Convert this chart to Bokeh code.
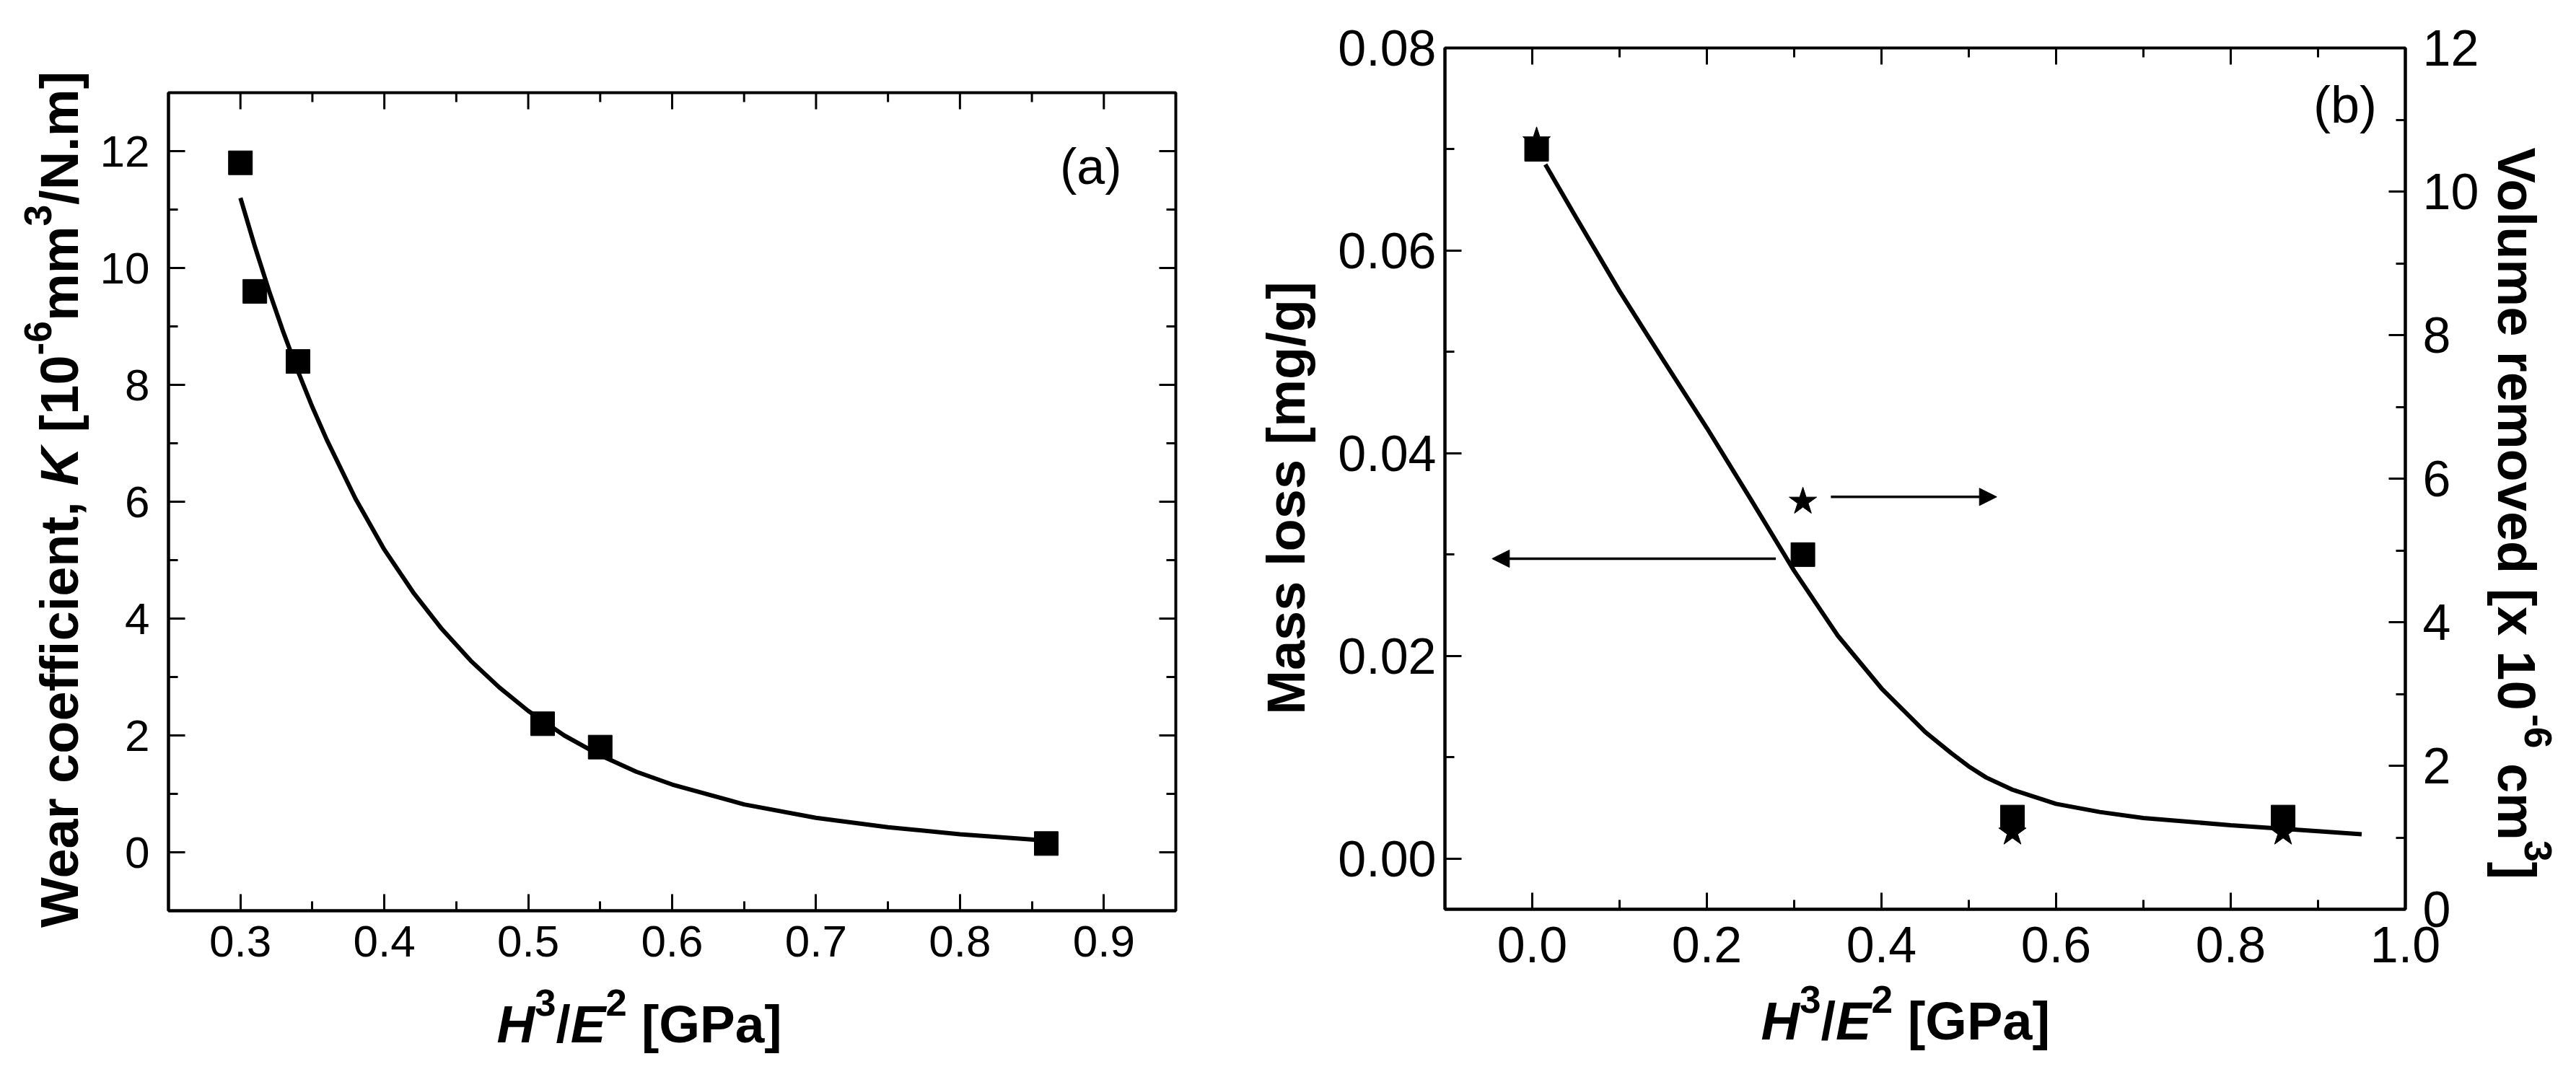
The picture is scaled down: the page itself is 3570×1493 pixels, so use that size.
import math
from bokeh.plotting import figure
from bokeh.models import (Range1d, LinearAxis, FixedTicker, PrintfTickFormatter,
                          Label, Arrow, NormalHead)
from bokeh.layouts import row, column
from bokeh.embed import file_html
from bokeh.resources import INLINE

# ---------------- data: panel (a) ----------------
a_h3e2 = [0.30, 0.31, 0.34, 0.51, 0.55, 0.86]
a_wear_k = [11.8, 9.6, 8.4, 2.2, 1.8, 0.15]
a_fit_x = [0.300, 0.310, 0.320, 0.330, 0.340, 0.350, 0.360, 0.380, 0.400, 0.420,
           0.440, 0.460, 0.480, 0.500, 0.525, 0.550, 0.575, 0.600, 0.650, 0.700,
           0.750, 0.800, 0.860]
a_fit_y = [11.20, 10.37, 9.60, 8.89, 8.23, 7.62, 7.06, 6.05, 5.18, 4.45,
           3.82, 3.28, 2.82, 2.42, 2.00, 1.66, 1.38, 1.16, 0.82, 0.59,
           0.43, 0.31, 0.20]
a_xticks = [0.3, 0.4, 0.5, 0.6, 0.7, 0.8, 0.9]
a_xminor = [0.25, 0.35, 0.45, 0.55, 0.65, 0.75, 0.85, 0.95]
a_yticks = [0, 2, 4, 6, 8, 10, 12]
a_yminor = [-1, 1, 3, 5, 7, 9, 11, 13]

# ---------------- data: panel (b) ----------------
b_h3e2 = [0.005, 0.31, 0.55, 0.86]
b_mass_loss = [0.0700, 0.0300, 0.0041, 0.0041]
b_volume = [10.7, 5.68, 1.07, 1.07]
b_fit_x = [0.015, 0.05, 0.10, 0.15, 0.20, 0.25, 0.30, 0.35, 0.40, 0.45,
           0.48, 0.50, 0.52, 0.55, 0.60, 0.65, 0.70, 0.80, 0.90, 0.95]
b_fit_y = [0.0685, 0.0633, 0.0560, 0.0492, 0.0425, 0.0355, 0.0284, 0.0220, 0.0168, 0.0125,
           0.0104, 0.0091, 0.0080, 0.0068, 0.0054, 0.0046, 0.0040, 0.0033, 0.0027, 0.0024]
b_xticks = [0.0, 0.2, 0.4, 0.6, 0.8, 1.0]
b_xminor = [-0.1, 0.1, 0.3, 0.5, 0.7, 0.9]
b_yticks = [0.00, 0.02, 0.04, 0.06, 0.08]
b_yminor = [0.01, 0.03, 0.05, 0.07]
b_vticks = [0, 2, 4, 6, 8, 10, 12]
b_vminor = [1, 3, 5, 7, 9, 11]

FONT = "Liberation Sans"

# Arial / Liberation Sans Bold advance widths (1/1000 em)
W = {' ': 278, ',': 278, '-': 333, '.': 278, '/': 278, '[': 333, ']': 333,
     '0': 556, '1': 556, '2': 556, '3': 556, '4': 556, '5': 556, '6': 556, '7': 556, '8': 556, '9': 556,
     'E': 667, 'G': 778, 'H': 722, 'K': 722, 'M': 833, 'N': 722, 'P': 667, 'V': 667, 'W': 944,
     'a': 556, 'c': 556, 'd': 611, 'e': 556, 'f': 333, 'g': 611, 'i': 278, 'l': 278, 'm': 889,
     'n': 611, 'o': 611, 'r': 389, 's': 556, 't': 333, 'u': 611, 'v': 556, 'x': 556}
SUP = 0.72
RAISE = 0.50
ANCHOR_SHIFT = 0.34   # anchor sits this far (in em) above the baseline


def tw(s, fs):
    return sum(W.get(c, 556) for c in s) / 1000.0 * fs


def seg_len(segs, size):
    return sum(tw(t, size * SUP if sup else size) for t, st, sup in segs)


def compose(fig, segs, px, py, direction, size, to_data):
    """Lay out styled text pieces; px, py are page pixels of the baseline start."""
    pos = 0.0
    for text, style, sup in segs:
        fs = size * SUP if sup else size
        core = text.strip(' ')
        lead = len(text) - len(text.lstrip(' '))
        trail = len(text) - len(text.rstrip(' '))
        pos += lead * W[' '] / 1000.0 * fs
        r = (RAISE * size if sup else 0.0) + ANCHOR_SHIFT * fs
        if direction == 0:
            x, y = px + pos, py - r
        elif direction == 1:
            x, y = px - r, py - pos
        else:
            x, y = px + r, py + pos
        dx, dy = to_data(x, y)
        fig.add_layout(Label(x=dx, y=dy, text=core, angle=direction * math.pi / 2,
                             text_align='left', text_baseline='alphabetic',
                             text_font=FONT, text_font_size=f"{fs:.1f}px",
                             text_font_style=style, text_color='black'))
        pos += tw(core, fs) + trail * W[' '] / 1000.0 * fs


def no_align(f):
    try:
        f.frame_align = False
    except Exception:
        pass


def label_fig(w, h, ox, oy):
    f = figure(width=w, height=h, x_range=Range1d(0, w), y_range=Range1d(0, h),
               min_border=0, min_border_left=0, min_border_right=0,
               min_border_top=0, min_border_bottom=0,
               output_backend="svg", toolbar_location=None,
               x_axis_type=None, y_axis_type=None)
    f.outline_line_color = None
    f.background_fill_color = 'white'
    f.border_fill_color = 'white'
    no_align(f)

    def to_data(px, py):
        return px - ox, h - (py - oy)
    return f, to_data


def style_axis(ax, fs, standoff):
    ax.axis_line_width = 4
    ax.axis_line_color = 'black'
    ax.major_tick_in = 23
    ax.major_tick_out = 0
    ax.minor_tick_in = 13
    ax.minor_tick_out = 0
    ax.major_tick_line_width = 3
    ax.minor_tick_line_width = 3
    ax.major_tick_line_color = 'black'
    ax.minor_tick_line_color = 'black'
    ax.major_label_text_font = FONT
    ax.major_label_text_color = 'black'
    ax.major_label_text_font_size = f"{fs}px"
    ax.major_label_standoff = standoff
    ax.axis_label = None


def mirror_ticks(p, xticks, xminor, ytop, yticks=None, yminor=None, xright=None):
    p.ray(x=xticks, y=[ytop] * len(xticks), length=23, length_units="screen",
          angle=-math.pi / 2, line_width=3, line_color='black')
    p.ray(x=xminor, y=[ytop] * len(xminor), length=13, length_units="screen",
          angle=-math.pi / 2, line_width=3, line_color='black')
    if yticks is not None:
        p.ray(x=[xright] * len(yticks), y=yticks, length=23, length_units="screen",
              angle=math.pi, line_width=3, line_color='black')
        p.ray(x=[xright] * len(yminor), y=yminor, length=13, length_units="screen",
              angle=math.pi, line_width=3, line_color='black')


TOP_H = 1356
BOT_H = 134

# ================= panel (a) =================
A_XR = (0.25, 0.95)
A_YR = (-1.0, 13.0)
YA_W = 130
P1_W = 1600
p1 = figure(width=P1_W, height=TOP_H, x_range=Range1d(*A_XR), y_range=Range1d(*A_YR),
            min_border_left=103, min_border_right=101, min_border_top=128,
            min_border_bottom=TOP_H - 128 - 1134,
            output_backend="svg", toolbar_location=None, x_axis_type=None, y_axis_type=None)
no_align(p1)
p1.outline_line_color = 'black'
p1.outline_line_width = 4
p1.background_fill_color = 'white'
p1.border_fill_color = 'white'

ax_b = LinearAxis(ticker=FixedTicker(ticks=a_xticks, minor_ticks=a_xminor),
                  formatter=PrintfTickFormatter(format="%.1f"))
style_axis(ax_b, 62, 21)
p1.add_layout(ax_b, 'below')
ay_l = LinearAxis(ticker=FixedTicker(ticks=a_yticks, minor_ticks=a_yminor),
                  formatter=PrintfTickFormatter(format="%d"))
style_axis(ay_l, 62, 26)
p1.add_layout(ay_l, 'left')
mirror_ticks(p1, a_xticks, a_xminor, A_YR[1], a_yticks, a_yminor, A_XR[1])

p1.line(a_fit_x, a_fit_y, line_color='black', line_width=6)
p1.scatter(a_h3e2, a_wear_k, marker='square', size=33, fill_color='black', line_color='black')
p1.add_layout(Label(x=0.891, y=11.73, text="(a)", text_align='center', text_baseline='middle',
                    text_font=FONT, text_font_size="70px", text_color='black'))

xlab = [("H", "bold italic", False), ("3", "bold", True), ("/", "bold", False),
        ("E", "bold italic", False), ("2", "bold", True), (" [GPa]", "bold", False)]

yA, map_yA = label_fig(YA_W, TOP_H, 0, 0)
ylab_a = [("Wear coefficient, ", "bold", False), ("K", "bold italic", False), (" [10", "bold", False),
          ("-6", "bold", True), ("mm", "bold", False), ("3", "bold", True), ("/N.m]", "bold", False)]
La = seg_len(ylab_a, 74)
compose(yA, ylab_a, 107, 692 + La / 2, 1, 74, map_yA)

xA, map_xA = label_fig(YA_W + P1_W, BOT_H, 0, TOP_H)
compose(xA, xlab, 688, 1444, 0, 73, map_xA)

# ================= panel (b) =================
B_XR = (-0.1, 1.0)
B_YR = (-0.005, 0.08)
B_VR = (0.0, 12.0)
YB_X = YA_W + P1_W          # 1730
YB_W = 110
P2_W = 1600
VB_W = 125
p2 = figure(width=P2_W, height=TOP_H, x_range=Range1d(*B_XR), y_range=Range1d(*B_YR),
            min_border_left=162, min_border_right=P2_W - 162 - 1331, min_border_top=66,
            min_border_bottom=TOP_H - 66 - 1194,
            output_backend="svg", toolbar_location=None, x_axis_type=None, y_axis_type=None)
no_align(p2)
p2.extra_y_ranges = {"vol": Range1d(*B_VR)}
p2.outline_line_color = 'black'
p2.outline_line_width = 4
p2.background_fill_color = 'white'
p2.border_fill_color = 'white'

bx_b = LinearAxis(ticker=FixedTicker(ticks=b_xticks, minor_ticks=b_xminor),
                  formatter=PrintfTickFormatter(format="%.1f"))
style_axis(bx_b, 70, 24)
p2.add_layout(bx_b, 'below')
by_l = LinearAxis(ticker=FixedTicker(ticks=b_yticks, minor_ticks=b_yminor),
                  formatter=PrintfTickFormatter(format="%.2f"))
style_axis(by_l, 70, 12)
p2.add_layout(by_l, 'left')
by_r = LinearAxis(y_range_name="vol", ticker=FixedTicker(ticks=b_vticks, minor_ticks=b_vminor),
                  formatter=PrintfTickFormatter(format="%d"))
style_axis(by_r, 70, 24)
p2.add_layout(by_r, 'right')
mirror_ticks(p2, b_xticks, b_xminor, B_YR[1])

p2.line(b_fit_x, b_fit_y, line_color='black', line_width=6)
p2.scatter(b_h3e2, b_volume, y_range_name="vol", marker='star', size=40,
           fill_color='black', line_color='black')
p2.scatter(b_h3e2, b_mass_loss, marker='square', size=33, fill_color='black', line_color='black')

p2.add_layout(Arrow(end=NormalHead(size=24, fill_color='black', line_color='black'),
                    x_start=0.279, y_start=0.0296, x_end=-0.046, y_end=0.0296,
                    line_color='black', line_width=3.5))
p2.add_layout(Arrow(end=NormalHead(size=24, fill_color='black', line_color='black'),
                    x_start=0.342, y_start=0.0357, x_end=0.532, y_end=0.0357,
                    line_color='black', line_width=3.5))
p2.add_layout(Label(x=0.931, y=0.0744, text="(b)", text_align='center', text_baseline='middle',
                    text_font=FONT, text_font_size="72px", text_color='black'))

yB, map_yB = label_fig(YB_W, TOP_H, YB_X, 0)
ylab_b = [("Mass loss [mg/g]", "bold", False)]
Lb = seg_len(ylab_b, 74)
compose(yB, ylab_b, 1807, 690 + Lb / 2, 1, 74, map_yB)

vB, map_vB = label_fig(VB_W, TOP_H, YB_X + YB_W + P2_W, 0)
vlab = [("Volume removed [x 10", "bold", False), ("-6", "bold", True), (" cm", "bold", False),
        ("3", "bold", True), ("]", "bold", False)]
compose(vB, vlab, 3462, 204, -1, 74, map_vB)

xB, map_xB = label_fig(YB_W + P2_W + VB_W, BOT_H, YB_X, TOP_H)
compose(xB, xlab, 2440, 1440, 0, 74, map_xB)

left_block = column(row(yA, p1, spacing=0), xA, spacing=0)
right_block = column(row(yB, p2, vB, spacing=0), xB, spacing=0)
layout = row(left_block, right_block, spacing=0)
open("out.html", "w").write(file_html(layout, INLINE))
